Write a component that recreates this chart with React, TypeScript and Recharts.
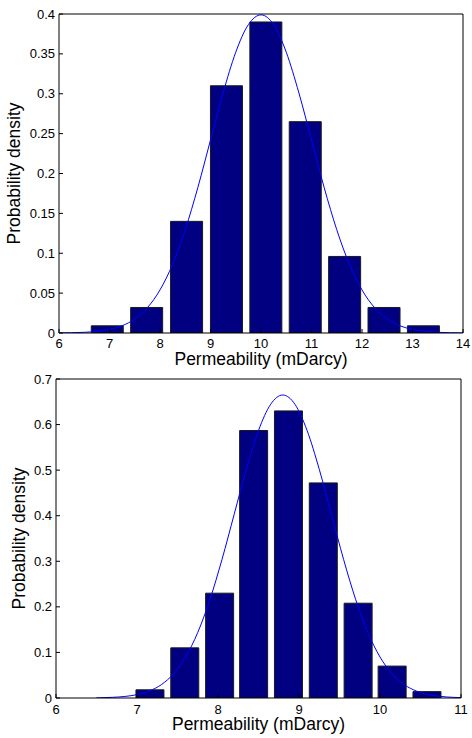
import React from 'react';
import { ComposedChart, Bar, Line, XAxis, YAxis } from 'recharts';

// upper panel: histogram + fitted curve
const topBinCenters = [6.95, 7.73, 8.52, 9.31, 10.09, 10.87, 11.65, 12.43, 13.21];
const topDensity = [0.009, 0.032, 0.14, 0.31, 0.39, 0.265, 0.096, 0.032, 0.009];
const topCurveX = [6, 6.25, 6.5, 6.75, 7, 7.25, 7.5, 7.75, 8, 8.25, 8.5, 8.75, 9, 9.25, 9.5, 9.75, 10,
  10.25, 10.5, 10.75, 11, 11.25, 11.5, 11.75, 12, 12.25, 12.5, 12.75, 13, 13.25, 13.5, 13.75, 14];
const topCurveY = [0.00013, 0.00035, 0.00087, 0.002, 0.0044, 0.0091, 0.0175, 0.0317, 0.054, 0.0863, 0.1295,
  0.1826, 0.242, 0.3011, 0.3521, 0.3867, 0.3989, 0.3867, 0.3521, 0.3011, 0.242, 0.1826, 0.1295, 0.0863,
  0.054, 0.0317, 0.0175, 0.0091, 0.0044, 0.002, 0.00087, 0.00035, 0.00013];
const topXTicks = [6, 7, 8, 9, 10, 11, 12, 13, 14];
const topYTicks = [0, 0.05, 0.1, 0.15, 0.2, 0.25, 0.3, 0.35, 0.4];

// lower panel
const botBinCenters = [7.16, 7.59, 8.02, 8.44, 8.87, 9.3, 9.73, 10.15, 10.58];
const botDensity = [0.018, 0.11, 0.23, 0.587, 0.63, 0.472, 0.208, 0.07, 0.014];
const botCurveX = [6.5, 6.55, 6.7, 6.85, 7, 7.15, 7.3, 7.45, 7.6, 7.75, 7.9, 8.05, 8.2, 8.35, 8.5, 8.65, 8.8,
  8.95, 9.1, 9.25, 9.4, 9.55, 9.7, 9.85, 10, 10.15, 10.3, 10.45, 10.6, 10.75, 10.9, 11];
const botCurveY = [0.0004, 0.0006, 0.0015, 0.0034, 0.0074, 0.0152, 0.0292, 0.0529, 0.09, 0.1438, 0.2159,
  0.3044, 0.4033, 0.5019, 0.5869, 0.6445, 0.6649, 0.6445, 0.5869, 0.5019, 0.4033, 0.3044, 0.2159, 0.1438,
  0.09, 0.0529, 0.0292, 0.0152, 0.0074, 0.0034, 0.0015, 0.0008];
const botXTicks = [6, 7, 8, 9, 10, 11];
const botYTicks = [0, 0.1, 0.2, 0.3, 0.4, 0.5, 0.6, 0.7];

const xTitle = 'Permeability (mDarcy)';
const yTitle = 'Probability density';

const black = '#000';
const tickStyle = { fill: black, fontSize: 13 };
const titleStyle = { fill: black, fontSize: 17.5 };

const Panel = ({ bins, density, curveX, curveY, xDomain, xTicks, yDomain, yTicks, barSize, margin,
  yWidth, xHeight, xTickMargin, yTickMargin, xLabelOffset, yLabelOffset }) => {
  const data = bins.map((x, i) => ({ x, density: density[i] }));
  const curve = curveX.map((x, i) => ({ x, pdf: curveY[i] }));
  return (
    <ComposedChart width={472} height={369} data={data} margin={margin}>
      <XAxis
        xAxisId="bottom"
        dataKey="x"
        type="number"
        domain={xDomain}
        ticks={xTicks}
        interval={0}
        allowDataOverflow
        height={xHeight}
        tickSize={-4}
        tickMargin={xTickMargin}
        axisLine={{ stroke: black }}
        tickLine={{ stroke: black }}
        tick={tickStyle}
        label={{ value: xTitle, position: 'insideBottom', offset: xLabelOffset, style: titleStyle }}
      />
      <XAxis
        xAxisId="top"
        orientation="top"
        dataKey="x"
        type="number"
        domain={xDomain}
        ticks={xTicks}
        interval={0}
        allowDataOverflow
        height={1}
        tickSize={-4}
        tick={false}
        axisLine={{ stroke: black }}
        tickLine={{ stroke: black }}
      />
      <YAxis
        yAxisId="left"
        type="number"
        domain={yDomain}
        ticks={yTicks}
        interval={0}
        allowDataOverflow
        width={yWidth}
        tickSize={-4}
        tickMargin={yTickMargin}
        axisLine={{ stroke: black }}
        tickLine={{ stroke: black }}
        tick={tickStyle}
        label={{
          value: yTitle,
          angle: -90,
          position: 'insideLeft',
          offset: yLabelOffset,
          style: { ...titleStyle, textAnchor: 'middle' },
        }}
      />
      <YAxis
        yAxisId="right"
        orientation="right"
        type="number"
        domain={yDomain}
        ticks={yTicks}
        interval={0}
        allowDataOverflow
        width={1}
        tickSize={-4}
        tick={false}
        axisLine={{ stroke: black }}
        tickLine={{ stroke: black }}
      />
      <Bar
        xAxisId="bottom"
        yAxisId="left"
        dataKey="density"
        barSize={barSize}
        fill="#000080"
        stroke="#1a1a1a"
        strokeWidth={1}
        isAnimationActive={false}
      />
      <Line
        xAxisId="top"
        yAxisId="right"
        data={curve}
        dataKey="pdf"
        type="monotone"
        stroke="#0000ff"
        strokeWidth={1}
        dot={false}
        activeDot={false}
        isAnimationActive={false}
      />
    </ComposedChart>
  );
};

export default function App() {
  return (
    <div style={{ position: 'absolute', left: 0, top: 0, width: 472, height: 738, background: '#fff',
      fontFamily: '"Liberation Sans", Arial, sans-serif' }}>
      <Panel
        bins={topBinCenters}
        density={topDensity}
        curveX={topCurveX}
        curveY={topCurveY}
        xDomain={[6, 14]}
        xTicks={topXTicks}
        yDomain={[0, 0.4]}
        yTicks={topYTicks}
        barSize={32}
        margin={{ top: 13, right: 8, left: 0, bottom: 0 }}
        yWidth={59}
        xHeight={36}
        xTickMargin={10}
        yTickMargin={8}
        xLabelOffset={4}
        yLabelOffset={14}
      />
      <Panel
        bins={botBinCenters}
        density={botDensity}
        curveX={botCurveX}
        curveY={botCurveY}
        xDomain={[6, 11]}
        xTicks={botXTicks}
        yDomain={[0, 0.7]}
        yTicks={botYTicks}
        barSize={28}
        margin={{ top: 9, right: 10, left: 0, bottom: 0 }}
        yWidth={56}
        xHeight={40}
        xTickMargin={11}
        yTickMargin={8}
        xLabelOffset={8}
        yLabelOffset={19}
      />
    </div>
  );
}
